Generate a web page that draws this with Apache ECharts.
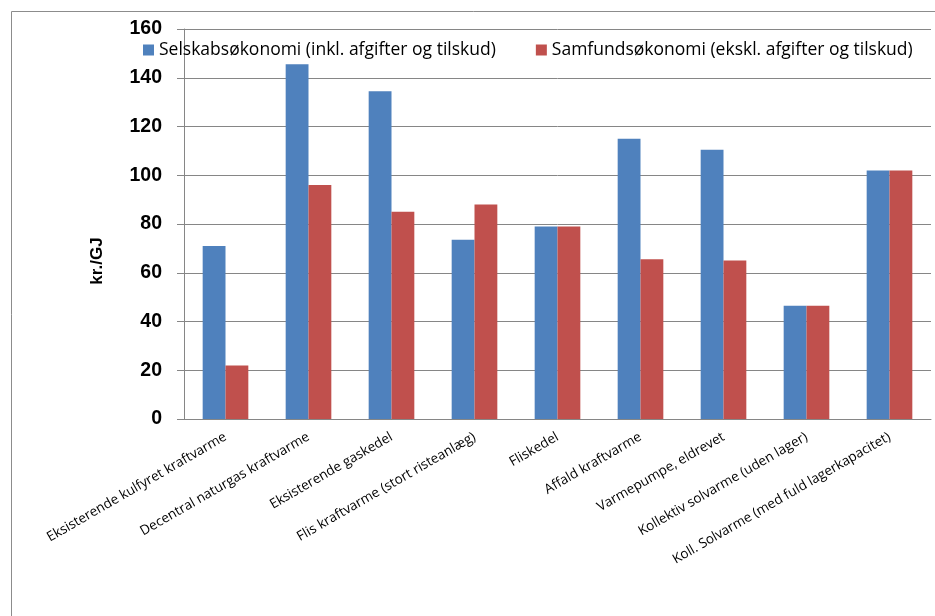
<!DOCTYPE html>
<html>
<head>
<meta charset="utf-8">
<script src="https://cdn.jsdelivr.net/npm/echarts@6/dist/echarts.min.js"></script>
<style>
    html, body { margin: 0; padding: 0; background: #fff; }
    #chart { width: 935px; height: 616px; }
</style>
</head>
<body>
<div id="chart"></div>
<script>
    // categories and values
    var categories = [
        'Eksisterende kulfyret kraftvarme',
        'Decentral naturgas kraftvarme',
        'Eksisterende gaskedel',
        'Flis kraftvarme (stort risteanlæg)',
        'Fliskedel',
        'Affald kraftvarme',
        'Varmepumpe, eldrevet',
        'Kollektiv solvarme (uden lager)',
        'Koll. Solvarme (med fuld lagerkapacitet)'
    ];
    var selskab = [71, 145.5, 134.5, 73.5, 79, 115, 110.5, 46.5, 102];
    var samfund = [22, 96, 85, 88, 79, 65.5, 65, 46.5, 102];
    var seriesNames = ['Selskabsøkonomi (inkl. afgifter og tilskud)', 'Samfundsøkonomi (ekskl. afgifter og tilskud)'];

    var chart = echarts.init(document.getElementById('chart'));
    chart.setOption({
        animation: false,
        color: ['#4F81BD', '#C0504D'],
        graphic: [{
            type: 'rect',
            shape: { x: 11.5, y: 11.5, width: 960, height: 640 },
            style: { fill: 'none', stroke: '#8c8c8c', lineWidth: 1 },
            silent: true
        }],
        legend: {
            left: 138,
            top: 36,
            itemWidth: 11,
            itemHeight: 11,
            itemGap: 40,
            icon: 'rect',
            textStyle: { fontFamily: 'Open Sans', fontSize: 17.5, color: '#000' },
            data: seriesNames
        },
        grid: {
            left: 184,
            right: 4,
            top: 29,
            bottom: 197,
            containLabel: false
        },
        xAxis: {
            type: 'category',
            data: categories,
            axisLine: { lineStyle: { color: '#868686' } },
            axisTick: { alignWithLabel: false, length: 5, lineStyle: { color: '#868686' } },
            axisLabel: {
                interval: 0,
                rotate: 30,
                margin: 17,
                fontFamily: 'Open Sans',
                fontSize: 13.5,
                color: '#000'
            }
        },
        yAxis: {
            type: 'value',
            min: 0,
            max: 160,
            interval: 20,
            name: 'kr./GJ',
            nameLocation: 'middle',
            nameRotate: 90,
            nameGap: 78,
            nameTextStyle: {
                fontFamily: 'Liberation Sans',
                fontWeight: 'bold',
                fontSize: 17,
                color: '#000',
                padding: [0, 74, 0, 0]
            },
            axisLine: { show: true, lineStyle: { color: '#868686' } },
            axisTick: { show: true, length: 7, lineStyle: { color: '#868686' } },
            splitLine: { lineStyle: { color: '#868686' } },
            axisLabel: {
                margin: 22,
                fontFamily: 'Liberation Sans',
                fontWeight: 'bold',
                fontSize: 19.5,
                color: '#000'
            }
        },
        series: [
            {
                name: seriesNames[0],
                type: 'bar',
                data: selskab,
                barGap: '0%',
                barCategoryGap: '45%'
            },
            {
                name: seriesNames[1],
                type: 'bar',
                data: samfund,
                barGap: '0%',
                barCategoryGap: '45%'
            }
        ]
    });
</script>
</body>
</html>
